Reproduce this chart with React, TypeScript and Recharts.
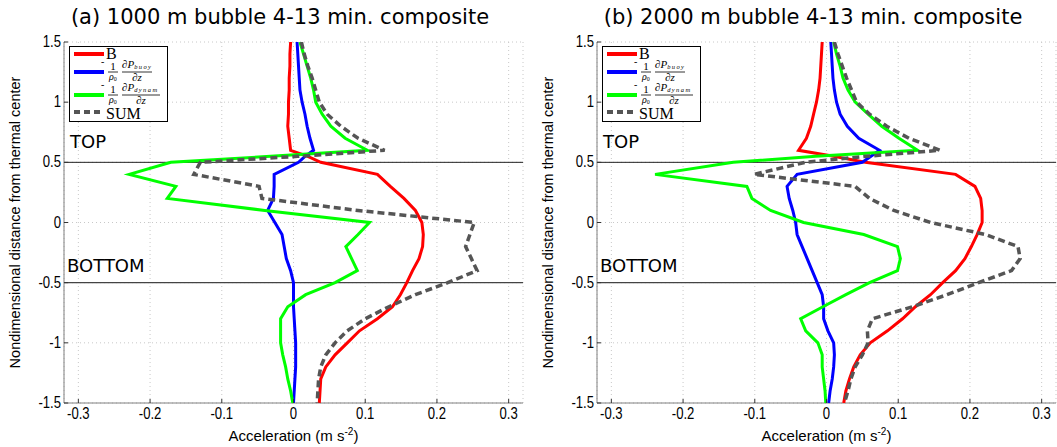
import React from 'react';
import { ScatterChart, Scatter, XAxis, YAxis, CartesianGrid, ReferenceLine } from 'recharts';

// nondimensional height levels (top to bottom)
const heights = [1.5, 1.4, 1.3, 1.2, 1.1, 1.0, 0.9, 0.8, 0.7, 0.6, 0.55, 0.5, 0.4, 0.3, 0.2, 0.1, 0, -0.1, -0.2, -0.3, -0.4, -0.5, -0.6, -0.7, -0.8, -0.9, -1.0, -1.1, -1.2, -1.3, -1.4, -1.5];

const xTicks = [-0.3, -0.2, -0.1, 0, 0.1, 0.2, 0.3];
const yTicks = [-1.5, -1, -0.5, 0, 0.5, 1, 1.5];

// 1000 m bubble
const buoyancy1000 = [-0.004, -0.005, -0.005, -0.006, -0.006, -0.007, -0.007, -0.008, -0.006, -0.004, 0.020, 0.038, 0.117, 0.135, 0.154, 0.170, 0.179, 0.181, 0.180, 0.175, 0.166, 0.158, 0.149, 0.138, 0.117, 0.092, 0.075, 0.058, 0.045, 0.038, 0.037, 0.036];
const buoyPgf1000 = [0.005, 0.006, 0.007, 0.008, 0.009, 0.012, 0.016, 0.019, 0.023, 0.028, 0.016, 0.007, -0.027, -0.027, -0.028, -0.036, -0.026, -0.016, -0.013, -0.010, -0.004, 0.000, 0.000, 0.000, 0.001, 0.002, 0.003, 0.003, 0.003, 0.002, 0.001, 0.000];
const dynPgf1000 = [0.009, 0.014, 0.019, 0.024, 0.028, 0.031, 0.040, 0.052, 0.072, 0.103, -0.032, -0.171, -0.229, -0.164, -0.176, -0.040, 0.106, 0.090, 0.073, 0.081, 0.089, 0.058, 0.017, -0.008, -0.018, -0.018, -0.018, -0.015, -0.011, -0.008, -0.004, -0.001];
const total1000 = [0.011, 0.015, 0.020, 0.026, 0.031, 0.036, 0.047, 0.066, 0.090, 0.127, 0.006, -0.130, -0.139, -0.048, -0.044, 0.090, 0.252, 0.246, 0.240, 0.248, 0.256, 0.215, 0.170, 0.133, 0.100, 0.075, 0.058, 0.045, 0.038, 0.035, 0.034, 0.033];

// 2000 m bubble
const buoyancy2000 = [-0.006, -0.007, -0.008, -0.009, -0.011, -0.014, -0.018, -0.022, -0.028, -0.039, 0.010, 0.054, 0.180, 0.207, 0.215, 0.217, 0.217, 0.210, 0.202, 0.193, 0.180, 0.162, 0.145, 0.124, 0.106, 0.085, 0.061, 0.047, 0.038, 0.032, 0.027, 0.024];
const buoyPgf2000 = [0.006, 0.007, 0.008, 0.009, 0.011, 0.014, 0.019, 0.029, 0.045, 0.074, 0.062, 0.050, -0.041, -0.055, -0.052, -0.047, -0.043, -0.041, -0.034, -0.027, -0.020, -0.013, -0.006, -0.004, -0.004, 0.002, 0.010, 0.011, 0.010, 0.008, 0.005, 0.003];
const dynPgf2000 = [0.010, 0.014, 0.019, 0.023, 0.030, 0.040, 0.058, 0.077, 0.101, 0.127, -0.015, -0.130, -0.239, -0.111, -0.104, -0.078, -0.032, 0.052, 0.099, 0.103, 0.099, 0.060, 0.027, -0.005, -0.036, -0.029, -0.012, -0.006, -0.006, -0.004, -0.002, -0.001];
const total2000 = [0.011, 0.016, 0.022, 0.028, 0.035, 0.042, 0.060, 0.084, 0.115, 0.158, 0.055, -0.030, -0.101, 0.040, 0.060, 0.094, 0.145, 0.222, 0.267, 0.270, 0.258, 0.212, 0.168, 0.120, 0.064, 0.057, 0.058, 0.050, 0.040, 0.034, 0.030, 0.025];

const TICK_FONT = "'Liberation Sans', Arial, sans-serif";
const SANS = "'DejaVu Sans', Verdana, sans-serif";
const SERIF = "'Liberation Serif', 'Times New Roman', serif";
const PLOT_TOP = 42;
const AXIS_W = 64;
const PLOT_W = 459;
const X_AXIS_H = 44;

const toPoints = (vals: number[]) => heights.map((y, i) => ({ x: vals[i], y }));

const noMarker = () => <g />;

function XTick({ x, y, payload }: any) {
  return (
    <g>
      <line x1={x} x2={x} y1={y} y2={y - 4} stroke="#333" />
      <text transform={`translate(${x},${y + 16}) scale(0.82,1)`} textAnchor="middle" fontSize={16} fontFamily={TICK_FONT} fill="#000">
        {payload.value}
      </text>
    </g>
  );
}

function YTick({ x, y, payload }: any) {
  return (
    <g>
      <line x1={x} x2={x + 4} y1={y} y2={y} stroke="#333" />
      <text transform={`translate(${x - 3},${y + 5}) scale(0.82,1)`} textAnchor="end" fontSize={16} fontFamily={TICK_FONT} fill="#000">
        {payload.value}
      </text>
    </g>
  );
}

const xLabel = (p: any) => {
  const { x, y, width } = p.viewBox;
  return (
    <text x={x + width / 2} y={y + 38} textAnchor="middle" fontSize={15} fontFamily={TICK_FONT} fill="#000">
      <tspan>Acceleration (m s</tspan>
      <tspan dy={-6} fontSize={10}>-2</tspan>
      <tspan dy={6}>)</tspan>
    </text>
  );
};

const yLabel = (p: any) => {
  const { x, y, height } = p.viewBox;
  return (
    <text transform={`translate(${x + 20},${y + height / 2}) rotate(-90)`} textAnchor="middle" fontSize={14.5} fontFamily={TICK_FONT} fill="#000">
      Nondimensional distance from thermal center
    </text>
  );
};

const topLabel = (p: any) => (
  <text x={p.viewBox.x + 6} y={p.viewBox.y - 14} fontSize={18} fontFamily={SANS} fill="#000">TOP</text>
);

const bottomLabel = (p: any) => (
  <text x={p.viewBox.x + 3} y={p.viewBox.y - 11} fontSize={18} fontFamily={SANS} fill="#000">BOTTOM</text>
);

// -1/rho0 dP/dz term drawn as a small stacked fraction
function Fraction({ y, sub, barEnd }: { y: number; sub: string; barEnd: number }) {
  return (
    <g fontFamily={SERIF} fill="#000">
      <text x={101} y={y - 7} fontSize={10}>-</text>
      <text x={113} y={y - 2} fontSize={11} textAnchor="middle">1</text>
      <line x1={108} x2={118} y1={y} y2={y} stroke="#000" strokeWidth={0.8} />
      <text x={109} y={y + 8} fontSize={10} fontStyle="italic">
        ρ<tspan fontSize={6} dy={1} fontStyle="normal">0</tspan>
      </text>
      <text x={122} y={y - 4} fontSize={11} fontStyle="italic">
        ∂P<tspan fontSize={6.5} dy={1} letterSpacing={1.4}>{sub}</tspan>
      </text>
      <line x1={122} x2={barEnd} y1={y} y2={y} stroke="#000" strokeWidth={0.8} />
      <text x={(122 + barEnd) / 2} y={y + 9} fontSize={11} fontStyle="italic" textAnchor="middle">∂z</text>
    </g>
  );
}

function LegendBox({ dx }: { dx: number }) {
  return (
    <g transform={`translate(${dx},0)`}>
      <rect x={69.5} y={46.5} width={98} height={75} fill="#fff" stroke="#000" strokeWidth={1} />
      <line x1={74} x2={104} y1={54} y2={54} stroke="#ff0000" strokeWidth={4} />
      <text x={106} y={59} fontSize={16} fontFamily={SERIF}>B</text>
      <line x1={74} x2={104} y1={72} y2={72} stroke="#0000ff" strokeWidth={4} />
      <Fraction y={72} sub="buoy" barEnd={152} />
      <line x1={74} x2={104} y1={95} y2={95} stroke="#00ff00" strokeWidth={4} />
      <Fraction y={95} sub="dynam" barEnd={160} />
      <line x1={74} x2={104} y1={112} y2={112} stroke="#555" strokeWidth={4} strokeDasharray="6 4" />
      <text x={106} y={119} fontSize={16} fontFamily={SERIF}>SUM</text>
    </g>
  );
}

function Panel({ left, width, b, buoy, dyn, sum }: { left: number; width: number; b: number[]; buoy: number[]; dyn: number[]; sum: number[] }) {
  return (
    <div style={{ position: 'absolute', left, top: 0 }}>
      <ScatterChart width={width} height={447} margin={{ top: PLOT_TOP, right: width - AXIS_W - PLOT_W, bottom: 0, left: 0 }}>
        <CartesianGrid stroke="#c8c8c8" strokeDasharray="1 3" />
        <XAxis
          type="number"
          dataKey="x"
          domain={[-0.32, 0.32]}
          ticks={xTicks}
          interval={0}
          allowDataOverflow
          height={X_AXIS_H}
          tickSize={0}
          tickMargin={0}
          tickLine={false}
          axisLine={{ stroke: '#808080' }}
          tick={<XTick />}
          label={xLabel}
        />
        <YAxis
          type="number"
          dataKey="y"
          domain={[-1.5, 1.5]}
          ticks={yTicks}
          interval={0}
          allowDataOverflow
          width={AXIS_W}
          tickSize={0}
          tickMargin={0}
          tickLine={false}
          axisLine={{ stroke: '#808080' }}
          tick={<YTick />}
          label={yLabel}
        />
        <ReferenceLine y={0.5} stroke="#222" strokeWidth={1} label={topLabel} />
        <ReferenceLine y={-0.5} stroke="#444" strokeWidth={1.2} label={bottomLabel} />
        <Scatter data={toPoints(b)} fill="#ff0000" line={{ stroke: '#ff0000', strokeWidth: 3 }} shape={noMarker} isAnimationActive={false} />
        <Scatter data={toPoints(buoy)} fill="#0000ff" line={{ stroke: '#0000ff', strokeWidth: 3 }} shape={noMarker} isAnimationActive={false} />
        <Scatter data={toPoints(dyn)} fill="#00ff00" line={{ stroke: '#00ff00', strokeWidth: 3 }} shape={noMarker} isAnimationActive={false} />
        <Scatter data={toPoints(sum)} fill="#555555" line={{ stroke: '#555555', strokeWidth: 3.5, strokeDasharray: '7 4' }} shape={noMarker} isAnimationActive={false} />
      </ScatterChart>
    </div>
  );
}

export default function App() {
  return (
    <div style={{ position: 'absolute', left: 0, top: 0, width: 1057, height: 447, background: '#fff', overflow: 'hidden' }}>
      <Panel left={0} width={533} b={buoyancy1000} buoy={buoyPgf1000} dyn={dynPgf1000} sum={total1000} />
      <Panel left={533} width={524} b={buoyancy2000} buoy={buoyPgf2000} dyn={dynPgf2000} sum={total2000} />
      <svg width={1057} height={447} style={{ position: 'absolute', left: 0, top: 0, pointerEvents: 'none' }}>
        <text x={280} y={24} textAnchor="middle" fontSize={21} fontFamily={SANS}>(a) 1000 m bubble 4-13 min. composite</text>
        <text x={813} y={24} textAnchor="middle" fontSize={21} fontFamily={SANS}>(b) 2000 m bubble 4-13 min. composite</text>
        <LegendBox dx={0} />
        <LegendBox dx={533} />
      </svg>
    </div>
  );
}
